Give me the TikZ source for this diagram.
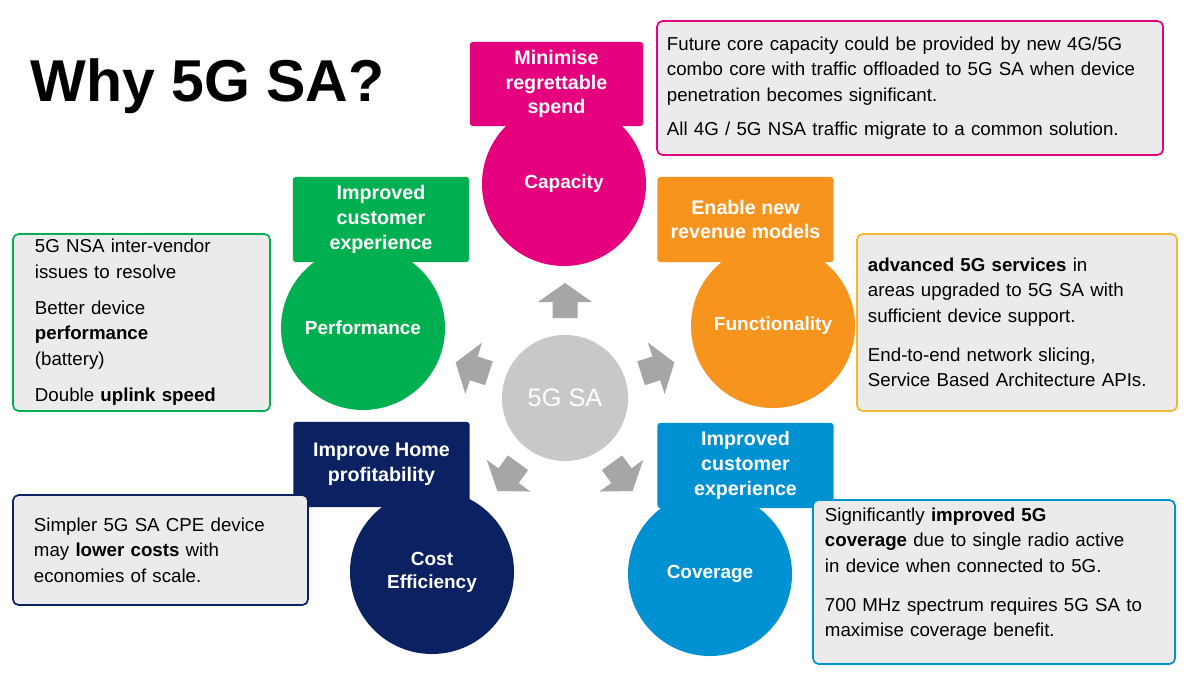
\documentclass[tikz,border=0pt]{standalone}
\usepackage{fontspec}
\setmainfont{Liberation Sans}
\usetikzlibrary{positioning}
\definecolor{capmag}{HTML}{E5007D}
\definecolor{perfgreen}{HTML}{00B050}
\definecolor{funcorange}{HTML}{F7941D}
\definecolor{funcline}{HTML}{F4B731}
\definecolor{costnavy}{HTML}{0B2161}
\definecolor{covblue}{HTML}{0091D2}
\definecolor{notefill}{HTML}{EBEBEB}
\definecolor{hubgrey}{HTML}{C8C8C8}
\definecolor{arrowgrey}{HTML}{A6A6A6}

\begin{document}
\begin{tikzpicture}[x=0.025cm, y=-0.025cm,
    disc/.style={circle, minimum size=4.1cm, inner sep=0pt, text=white,
      font=\fontsize{13.5}{16.5}\selectfont\bfseries, align=center},
    tag/.style={rectangle, rounded corners=2pt, minimum width=4.4cm,
      minimum height=2.13cm, inner sep=2pt, text=white,
      font=\fontsize{14}{17.5}\selectfont\bfseries, align=center},
    note/.style={rectangle, rounded corners=4pt, fill=notefill, line width=1.2pt,
      align=left, font=\fontsize{13.3}{18}\selectfont, inner ysep=0pt}]
  \useasboundingbox[fill=white] (0,0) rectangle (1200,675);

  % title
  \node[inner sep=0pt, anchor=base west, font=\fontsize{42}{42}\selectfont\bfseries]
    (title) at (30,102) {Why 5G SA?};

  % hub and arrows
  \node[circle, fill=hubgrey, minimum size=3.15cm, inner sep=0pt, text=white,
    font=\fontsize{18}{18}\selectfont] (hub) at (565,398) {5G SA};
  \foreach \k in {0,...,4}
    \fill[arrowgrey, shift={(hub)}, rotate=-72*\k]
      (0,-115) -- (27,-96) -- (12.5,-96) -- (12.5,-80)
      -- (-12.5,-80) -- (-12.5,-96) -- (-27,-96) -- cycle;

  % circles
  \node[disc, fill=capmag] (capacity) at (564,184) {Capacity};
  \node[disc, fill=perfgreen] (performance) at (363,328) {Performance};
  \node[disc, fill=funcorange] (functionality) at (773,326) {Functionality};
  \node[disc, fill=costnavy] (cost) at (432,572) {Cost\\Efficiency};
  \node[disc, fill=covblue] (coverage) at (710,574) {Coverage};

  % tags
  \node[tag, fill=capmag, minimum width=4.33cm, minimum height=2.1cm]
    (capacitytag) at (556.5,84) {Minimise\\regrettable\\spend};
  \node[tag, fill=perfgreen] (performancetag) at (381,219.5)
    {Improved\\customer\\experience};
  \node[tag, fill=funcorange] (functionalitytag) at (745.5,219.5)
    {Enable new\\revenue models};
  \node[tag, fill=costnavy] (costtag) at (381.5,464.5) {Improve Home\\profitability};
  \node[tag, fill=covblue] (coveragetag) at (745.5,465.5)
    {Improved\\customer\\experience};

  % notes
  \node[note, draw=capmag, inner xsep=0.25cm, text width=12.15cm, minimum height=3.35cm]
    (capacitynote) at (910,88)
    {Future core capacity could be provided by new 4G/5G\\
     combo core with traffic offloaded to 5G SA when device\\
     penetration becomes significant.\\[6pt]
     All 4G / 5G NSA traffic migrate to a common solution.};
  \node[note, draw=perfgreen, inner xsep=0.55cm, text width=5.325cm, minimum height=4.425cm]
    (performancenote) at (141.5,322.5)
    {5G NSA inter-vendor\\issues to resolve\\[8pt]
     Better device\\\textbf{performance}\\(battery)\\[8pt]
     Double \textbf{uplink speed}};
  \node[note, draw=funcline, inner xsep=0.275cm, text width=7.45cm, minimum height=4.425cm]
    (functionalitynote) at (1017,322.5)
    {\textbf{advanced 5G services} in\\areas upgraded to 5G SA with\\
     sufficient device support.\\[10pt]
     End-to-end network slicing,\\Service Based Architecture APIs.};
  \node[note, draw=costnavy, inner xsep=0.525cm, text width=6.325cm, minimum height=2.75cm]
    (costnote) at (160.5,550)
    {Simpler 5G SA CPE device\\may \textbf{lower costs} with\\economies of scale.};
  \node[note, draw=covblue, minimum width=9.05cm, minimum height=4.1cm]
    (coveragenote) at (994,582) {};
  \node[note, fill=none, inner sep=0pt, text width=8.45cm, anchor=north west]
    (coveragetext) at ([xshift=0.3cm, yshift=-0.2cm]coveragenote.north west)
    {Significantly \textbf{improved 5G}\\
     \textbf{coverage} due to single radio active\\
     in device when connected to 5G.\\[10pt]
     700 MHz spectrum requires 5G SA to\\maximise coverage benefit.};
\end{tikzpicture}
\end{document}
